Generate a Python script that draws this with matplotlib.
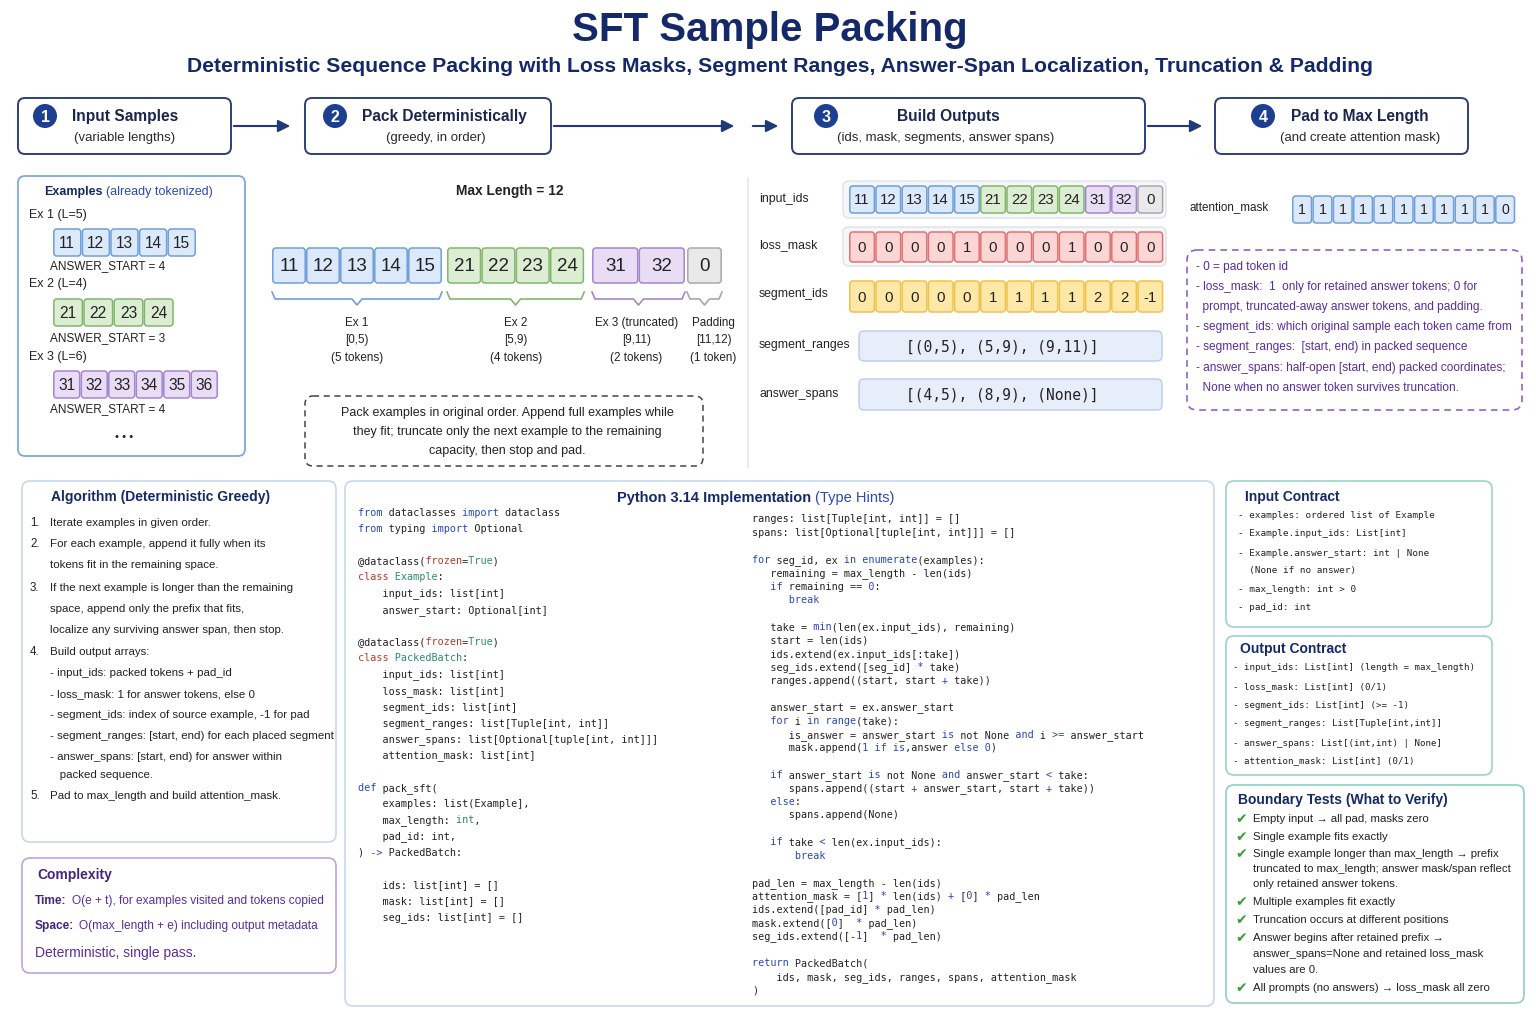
import re
import matplotlib
matplotlib.use("Agg")
import matplotlib.pyplot as plt
from matplotlib.patches import FancyBboxPatch, Circle
from matplotlib import font_manager as fm

# ---------------- data ----------------
ex_tokens = [[11, 12, 13, 14, 15], [21, 22, 23, 24], [31, 32, 33, 34, 35, 36]]
answer_starts = [4, 3, 4]
max_length = 12
packed_ids = [11, 12, 13, 14, 15, 21, 22, 23, 24, 31, 32, 0]
loss_mask = [0, 0, 0, 0, 1, 0, 0, 0, 1, 0, 0, 0]
segment_ids = [0, 0, 0, 0, 0, 1, 1, 1, 1, 2, 2, -1]
attention_mask = [1, 1, 1, 1, 1, 1, 1, 1, 1, 1, 0]
segment_ranges = "[(0,5), (5,9), (9,11)]"
answer_spans = "[(4,5), (8,9), (None)]"
seg_names = ["Ex 1", "Ex 2", "Ex 3 (truncated)", "Padding"]
seg_spans = ["[0,5)", "[5,9)", "[9,11)", "[11,12)"]
seg_counts = ["(5 tokens)", "(4 tokens)", "(2 tokens)", "(1 token)"]
seg_keys = [0, 1, 2, -1]

steps = [("1", "Input Samples", "(variable lengths)"),
         ("2", "Pack Deterministically", "(greedy, in order)"),
         ("3", "Build Outputs", "(ids, mask, segments, answer spans)"),
         ("4", "Pad to Max Length", "(and create attention mask)")]

# ---------------- style ----------------
NAVY = "#15296a"
BLUE = "#2b48b8"
INK = "#222222"
PURPLE = "#5a2d9c"
RED = "#c0392b"
GREEN = "#2e8b6e"
FILL = {0: ("#dce9fb", "#6f9fd8"), 1: ("#dcedd3", "#80b76c"),
        2: ("#e8ddf4", "#a585cf"), -1: ("#e9e9e9", "#a8a8a8")}
RED_C = ("#fcd6d4", "#e07272")
YEL_C = ("#fde8a8", "#efc24c")


def has_font(name):
    try:
        fm.findfont(fm.FontProperties(family=name), fallback_to_default=False)
        return True
    except ValueError:
        return False


SANS = ["Liberation Sans", "DejaVu Sans"]
if has_font("Liberation Sans Narrow"):
    NARROW, NS = ["Liberation Sans Narrow", "DejaVu Sans"], 1.0
else:
    NARROW, NS = SANS, 0.86
MONO = "DejaVu Sans Mono"
plt.rcParams["font.family"] = SANS

fig = plt.figure(figsize=(15.36, 10.24), dpi=100)
ax = fig.add_axes([0, 0, 1, 1])
ax.set_xlim(0, 1536)
ax.set_ylim(1024, 0)
ax.axis("off")
renderer = fig.canvas.get_renderer()


def txt(x, y, s, size=9, color=INK, weight="normal", ha="left", va="center",
        family=None, **kw):
    return ax.text(x, y, s, fontsize=size, color=color, fontweight=weight,
                   ha=ha, va=va, family=family or SANS, **kw)


def ntxt(x, y, s, size=10, **kw):
    return txt(x, y, s, size=size * NS, family=NARROW, **kw)


def after(t, s, gap=4, **kw):
    bb = t.get_window_extent(renderer)
    x, y = t.get_position()
    return txt(bb.x1 + gap, y, s, **kw)


def box(x0, y0, x1, y1, ec, fc="white", lw=1.2, r=8, ls="-", z=1):
    ax.add_patch(FancyBboxPatch((x0, y0), x1 - x0, y1 - y0,
                                boxstyle=f"round,pad=0,rounding_size={r}",
                                ec=ec, fc=fc, lw=lw, ls=ls, zorder=z))


def cells(values, x0, y0, w, h, colors, size):
    for i, v in enumerate(values):
        fc, ec = colors[i]
        box(x0 + i * w + 0.8, y0, x0 + (i + 1) * w - 0.8, y0 + h, ec, fc, lw=1.1, r=3, z=3)
        txt(x0 + (i + 0.5) * w, y0 + h / 2 + 1, str(v), size=size,
            ha="center", zorder=4)


def brace(x0, x1, y, color):
    xm = (x0 + x1) / 2
    ax.plot([x0, x0 + 3, xm - 5, xm, xm + 5, x1 - 3, x1],
            [y, y + 7, y + 7, y + 13, y + 7, y + 7, y], color=color, lw=1.2,
            solid_joinstyle="round")


# ---------------- header ----------------
txt(770, 30, "SFT Sample Packing", size=29, color=NAVY, weight="bold", ha="center")
txt(780, 66, "Deterministic Sequence Packing with Loss Masks, Segment Ranges, "
    "Answer-Span Localization, Truncation & Padding", size=15.2, color=NAVY,
    weight="bold", ha="center")

step_boxes = [(18, 231), (305, 551), (792, 1145), (1215, 1468)]
circle_x = [45, 335, 826, 1263]
title_pos = [(72, "left"), (362, "left"), (948, "center"), (1360, "center")]
sub_x = [125, 436, 946, 1360]
for (x0, x1), cx, (tx, tha), sx, (num, head, sub) in zip(step_boxes, circle_x, title_pos, sub_x, steps):
    box(x0, 98, x1, 154, "#2c3f78", lw=1.4, r=7)
    ax.add_patch(Circle((cx, 116), 12, fc="#1d3f91", ec="none", zorder=3))
    txt(cx, 117, num, size=11.5, color="white", weight="bold", ha="center", zorder=4)
    ntxt(tx, 116, head, size=13, color="#1a2550", weight="bold", ha=tha)
    ntxt(sx, 138, sub, size=11, color="#2a2a2a", ha="center")

arrow_kw = dict(arrowstyle="-|>", color="#1f3a7a", lw=1.5, mutation_scale=18)
for xa, xb in [(231, 293), (551, 737), (750, 781), (1145, 1205)]:
    ax.annotate("", xy=(xb, 126), xytext=(xa, 126), arrowprops=arrow_kw)

# ---------------- examples panel ----------------
box(18, 176, 245, 456, "#7fa9dd", lw=1.3, r=7)
t = ntxt(44, 195, "Examples", size=10.5, color=NAVY, weight="bold", va="baseline")
after(t, "(already tokenized)", gap=3, size=10.5 * NS, color=BLUE, family=NARROW, va="baseline")
ex_rows = [(215, 229, 266, 28.6), (284, 299, 338, 30.2), (357, 371, 409, 27.5)]
for k, (toks, ans, (ly, cy, ay, w)) in enumerate(zip(ex_tokens, answer_starts, ex_rows)):
    ntxt(29, ly, f"Ex {k + 1} (L={len(toks)})", size=10.5)
    cells(toks, 53, cy, w, 27, [FILL[k]] * len(toks), 11.2)
    ntxt(50, ay, f"ANSWER_START = {ans}", size=9.8)
txt(124, 437, "• • •", size=8, ha="center")

# ---------------- packed row ----------------
ntxt(510, 191, f"Max Length = {max_length}", size=11.5, weight="bold", ha="center")
group_x = {0: (272, 34.0), 1: (447, 34.3), 2: (592, 46.5), -1: (687, 35.0)}
label_shift = {0: 0, 1: 0, 2: -2, -1: 9}
for key, name, span, cnt in zip(seg_keys, seg_names, seg_spans, seg_counts):
    idx = [i for i, s in enumerate(segment_ids) if s == key]
    gx, w = group_x[key]
    vals = [packed_ids[i] for i in idx]
    cells(vals, gx, 248, w, 35, [FILL[key]] * len(vals), 13.5)
    x1 = gx + w * len(vals)
    brace(gx, x1, 292, FILL[key][1])
    xm = (gx + x1) / 2 + label_shift[key]
    for j, s in enumerate([name, span, cnt]):
        ntxt(xm, 323 + 17.5 * j, s, size=9.7, ha="center")

box(305, 396, 703, 466, "#444444", lw=1.1, r=8, ls=(0, (4, 3)))
for j, s in enumerate(["Pack examples in original order. Append full examples while",
                       "they fit; truncate only the next example to the remaining",
                       "capacity, then stop and pad."]):
    ntxt(507, 413 + 19 * j, s, size=10.5, ha="center")

ax.plot([748, 748], [178, 467], color="#e1e5ea", lw=1.2)

# ---------------- outputs ----------------
cw = 26.2
box(843, 181, 1166, 218, "#dde2ea", fc="#f6f7f9", lw=1.0, r=6)
box(843, 227, 1166, 266, "#dde2ea", fc="#f6f7f9", lw=1.0, r=6)
ntxt(759, 199, "input_ids", size=10.3)
cells(packed_ids, 849, 186, cw, 27, [FILL[s] for s in segment_ids], 10.8)
ntxt(759, 245, "loss_mask", size=10.3)
cells(loss_mask, 849, 232, cw, 30, [RED_C] * len(loss_mask), 10.8)
ntxt(759, 294, "segment_ids", size=10.3)
cells(segment_ids, 849, 281, cw, 31, [YEL_C] * len(segment_ids), 10.8)
ntxt(759, 345, "segment_ranges", size=10.3)
box(859, 331, 1162, 361, "#b9cce8", fc="#e7eef9", lw=1.0, r=5)
txt(1002, 347, segment_ranges, size=10.5, family=MONO, ha="center")
ntxt(759, 394, "answer_spans", size=10.3)
box(859, 379, 1162, 410, "#b9cce8", fc="#e7eef9", lw=1.0, r=5)
txt(1002, 395, answer_spans, size=10.5, family=MONO, ha="center")

ntxt(1189, 207, "attention_mask", size=9.7)
cells(attention_mask, 1292, 196, 20.3, 27, [FILL[0]] * len(attention_mask), 10.2)

box(1187, 250, 1522, 410, "#8e63c9", lw=1.2, r=10, ls=(0, (4, 3)))
notes = [("- 0 = pad token id", 267),
         ("- loss_mask:  1  only for retained answer tokens; 0 for", 287),
         ("  prompt, truncated-away answer tokens, and padding.", 307),
         ("- segment_ids: which original sample each token came from", 327),
         ("- segment_ranges:  [start, end) in packed sequence", 347),
         ("- answer_spans: half-open [start, end) packed coordinates;", 368),
         ("  None when no answer token survives truncation.", 388)]
for s, y in notes:
    ntxt(1196, y, s, size=9.95, color=PURPLE)

# ---------------- algorithm ----------------
box(22, 481, 336, 842, "#c6d8ee", lw=1.2, r=8)
txt(161, 497, "Algorithm (Deterministic Greedy)", size=10, color=NAVY, weight="bold", ha="center")
algo = [("1.", "Iterate examples in given order.", 523),
        ("2.", "For each example, append it fully when its", 544),
        ("", "tokens fit in the remaining space.", 565),
        ("3.", "If the next example is longer than the remaining", 588),
        ("", "space, append only the prefix that fits,", 609),
        ("", "localize any surviving answer span, then stop.", 630),
        ("4.", "Build output arrays:", 652),
        ("", "- input_ids: packed tokens + pad_id", 673),
        ("", "- loss_mask: 1 for answer tokens, else 0", 694),
        ("", "- segment_ids: index of source example, -1 for pad", 715),
        ("", "- segment_ranges: [start, end) for each placed segment", 736),
        ("", "- answer_spans: [start, end) for answer within", 757),
        ("", "   packed sequence.", 775),
        ("5.", "Pad to max_length and build attention_mask.", 796)]
for n, s, y in algo:
    if n:
        txt(30, y, n, size=8.3)
    txt(50, y, s, size=8.25)

box(22, 858, 336, 973, "#bba3e0", lw=1.2, r=8)
txt(37, 875, "Complexity", size=10, color="#45257f", weight="bold")
t = txt(35, 904, "Time:", size=8.6, color="#45257f", weight="bold", va="baseline")
after(t, "O(e + t), for examples visited and tokens copied", gap=5, size=8.6, color=PURPLE, va="baseline")
t = txt(35, 929, "Space:", size=8.6, color="#45257f", weight="bold", va="baseline")
after(t, "O(max_length + e) including output metadata", gap=5, size=8.6, color=PURPLE, va="baseline")
txt(35, 953, "Deterministic, single pass.", size=10, color=PURPLE)

# ---------------- code ----------------
box(345, 481, 1214, 1006, "#c6d8ee", lw=1.2, r=8)
t = txt(617, 502, "Python 3.14 Implementation", size=10.5, color=NAVY, weight="bold", va="baseline")
after(t, "(Type Hints)", gap=4, size=10.5, color=BLUE, va="baseline")

code_left = [
    "from dataclasses import dataclass",
    "from typing import Optional",
    "",
    "@dataclass(frozen=True)",
    "class Example:",
    "    input_ids: list[int]",
    "    answer_start: Optional[int]",
    "",
    "@dataclass(frozen=True)",
    "class PackedBatch:",
    "    input_ids: list[int]",
    "    loss_mask: list[int]",
    "    segment_ids: list[int]",
    "    segment_ranges: list[Tuple[int, int]]",
    "    answer_spans: list[Optional[tuple[int, int]]]",
    "    attention_mask: list[int]",
    "",
    "def pack_sft(",
    "    examples: list(Example],",
    "    max_length: int,",
    "    pad_id: int,",
    ") -> PackedBatch:",
    "",
    "    ids: list[int] = []",
    "    mask: list[int] = []",
    "    seg_ids: list[int] = []",
]
code_right = [
    "ranges: list[Tuple[int, int]] = []",
    "spans: list[Optional[tuple[int, int]]] = []",
    "",
    "for seg_id, ex in enumerate(examples):",
    "   remaining = max_length - len(ids)",
    "   if remaining == 0:",
    "      break",
    "",
    "   take = min(len(ex.input_ids), remaining)",
    "   start = len(ids)",
    "   ids.extend(ex.input_ids[:take])",
    "   seg_ids.extend([seg_id] * take)",
    "   ranges.append((start, start + take))",
    "",
    "   answer_start = ex.answer_start",
    "   for i in range(take):",
    "      is_answer = answer_start is not None and i >= answer_start",
    "      mask.append(1 if is,answer else 0)",
    "",
    "   if answer_start is not None and answer_start < take:",
    "      spans.append((start + answer_start, start + take))",
    "   else:",
    "      spans.append(None)",
    "",
    "   if take < len(ex.input_ids):",
    "       break",
    "",
    "pad_len = max_length - len(ids)",
    "attention_mask = [1] * len(ids) + [0] * pad_len",
    "ids.extend([pad_id] * pad_len)",
    "mask.extend([0]  * pad_len)",
    "seg_ids.extend([-1]  * pad_len)",
    "",
    "return PackedBatch(",
    "    ids, mask, seg_ids, ranges, spans, attention_mask",
    ")",
]
BLUE_WORDS = {"from", "import", "for", "in", "if", "is", "and", "else", "def",
              "return", "break", "enumerate", "range", "min", "->", ">=", "<", "+", "*"}


def token_colors(line):
    cols = [INK] * len(line)
    prev = None
    for m in re.finditer(r"[A-Za-z_][A-Za-z_0-9]*|->|>=|==|\d+|\S", line):
        tok = m.group()
        c = None
        if tok in BLUE_WORDS or tok.isdigit():
            c = BLUE
        elif tok in ("class", "frozen"):
            c = RED
        elif tok == "True" or prev == "class":
            c = GREEN
        elif tok == "int" and line.strip().startswith("max_length:"):
            c = GREEN
        if c:
            cols[m.start():m.end()] = [c] * len(tok)
        prev = tok
    return cols


def code_block(lines, x0, y0, dy, size=7.3):
    for k, line in enumerate(lines):
        if not line:
            continue
        cols = token_colors(line)
        for c in set(cols):
            masked = "".join(ch if cc == c else " " for ch, cc in zip(line, cols))
            if masked.strip():
                ax.text(x0, y0 + k * dy + 3.5, masked, family=MONO, fontsize=size,
                        color=c, ha="left", va="baseline")


code_block(code_left, 358, 512, 16.2)
code_block(code_right, 752, 519, 13.45)

# ---------------- contracts ----------------
box(1226, 481, 1492, 627, "#9fd1c8", lw=1.2, r=8)
txt(1245, 497, "Input Contract", size=10, color=NAVY, weight="bold")
for s, y in [("- examples: ordered list of Example", 516),
             ("- Example.input_ids: List[int]", 534),
             ("- Example.answer_start: int | None", 553),
             ("  (None if no answer)", 571),
             ("- max_length: int > 0", 589),
             ("- pad_id: int", 608)]:
    txt(1238, y, s, size=6.7, family=MONO)

box(1226, 636, 1492, 775, "#9fd1c8", lw=1.2, r=8)
txt(1240, 649, "Output Contract", size=10, color=NAVY, weight="bold")
for s, y in [("- input_ids: List[int] (length = max_length)", 668),
             ("- loss_mask: List[int] (0/1)", 687),
             ("- segment_ids: List[int] (>= -1)", 705),
             ("- segment_ranges: List[Tuple[int,int]]", 724),
             ("- answer_spans: List[(int,int) | None]", 743),
             ("- attention_mask: List[int] (0/1)", 761)]:
    txt(1233, y, s, size=6.6, family=MONO)

box(1226, 785, 1524, 1003, "#8ed0c1", lw=1.2, r=8)
txt(1238, 800, "Boundary Tests (What to Verify)", size=10, color=NAVY, weight="bold")
tests = [(True, "Empty input \u2192 all pad, masks zero", 819),
         (True, "Single example fits exactly", 837),
         (True, "Single example longer than max_length \u2192 prefix", 854),
         (False, "truncated to max_length; answer mask/span reflect", 869),
         (False, "only retained answer tokens.", 884),
         (True, "Multiple examples fit exactly", 902),
         (True, "Truncation occurs at different positions", 920),
         (True, "Answer begins after retained prefix \u2192", 938),
         (False, "answer_spans=None and retained loss_mask", 954),
         (False, "values are 0.", 970),
         (True, "All prompts (no answers) \u2192 loss_mask all zero", 988)]
for chk, s, y in tests:
    if chk:
        txt(1241, y, "\u2714", size=10, color="#3a9a3a", family="DejaVu Sans", ha="center")
    txt(1253, y, s, size=8.2)

fig.savefig("out.png", dpi=100)
